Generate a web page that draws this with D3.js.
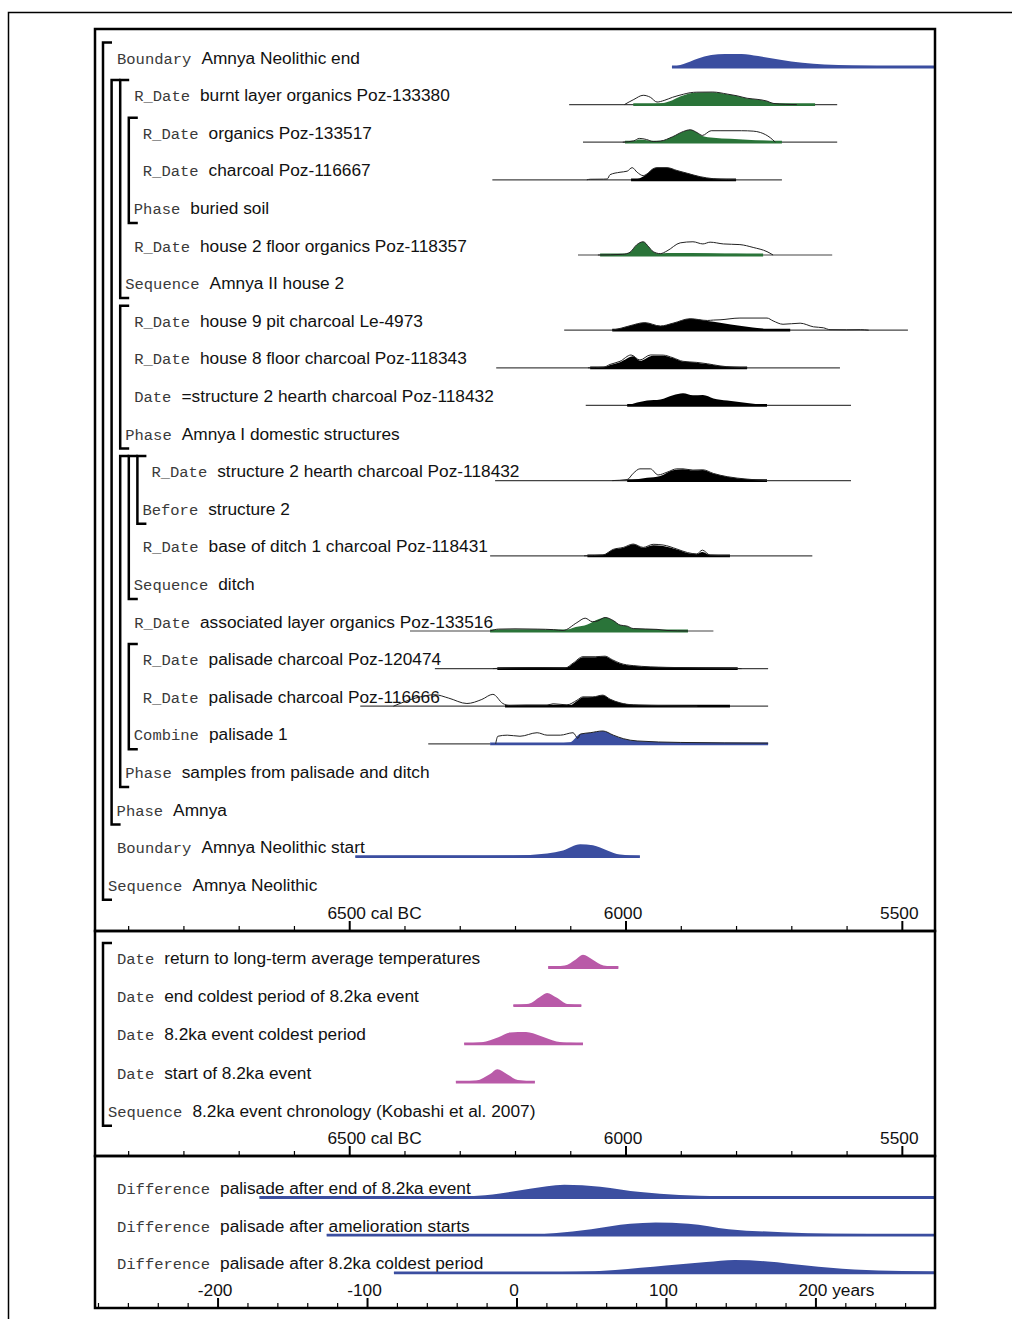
<!DOCTYPE html>
<html>
<head>
<meta charset="utf-8">
<script src="https://cdn.jsdelivr.net/npm/d3@7"></script>
<style>
	body{margin:0;background:#fff;}
	svg{display:block;}
	.key{font-family:"Liberation Mono",monospace;font-size:15.5px;fill:#3a3a3a;}
	.name{font-family:"Liberation Sans",Arial,sans-serif;font-size:17.3px;fill:#111;}
	.tick text{font-family:"Liberation Sans",Arial,sans-serif;font-size:17.3px;fill:#111;}
</style>
</head>
<body>
<script>

//Row labels of the Amnya model (top panel), top to bottom
let amnyaKeys = ["Boundary","R_Date","R_Date","R_Date","Phase","R_Date","Sequence","R_Date","R_Date","Date","Phase",
	"R_Date","Before","R_Date","Sequence","R_Date","R_Date","R_Date","Combine","Phase","Phase","Boundary","Sequence"];
let amnyaNames = ["Amnya Neolithic end","burnt layer organics Poz-133380","organics Poz-133517","charcoal Poz-116667",
	"buried soil","house 2 floor organics Poz-118357","Amnya II house 2","house 9 pit charcoal Le-4973",
	"house 8 floor charcoal Poz-118343","=structure 2 hearth charcoal Poz-118432","Amnya I domestic structures",
	"structure 2 hearth charcoal Poz-118432","structure 2","base of ditch 1 charcoal Poz-118431","ditch",
	"associated layer organics Poz-133516","palisade charcoal Poz-120474","palisade charcoal Poz-116666","palisade 1",
	"samples from palisade and ditch","Amnya","Amnya Neolithic start","Amnya Neolithic"];
//Groupings: [first row, label row, nesting depth]
let amnyaGroups = [[0,22,0],[1,20,1],[1,6,2],[2,4,3],[7,10,2],[11,19,2],[11,14,3],[11,12,4],[16,18,3]];

//Kobashi 8.2ka chronology (middle panel)
let climateKeys = ["Date","Date","Date","Date","Sequence"];
let climateNames = ["return to long-term average temperatures","end coldest period of 8.2ka event",
	"8.2ka event coldest period","start of 8.2ka event","8.2ka event chronology (Kobashi et al. 2007)"];
let climateGroups = [[0,4,0]];

//Differences (bottom panel)
let diffKeys = ["Difference","Difference","Difference"];
let diffNames = ["palisade after end of 8.2ka event","palisade after amelioration starts","palisade after 8.2ka coldest period"];

//Distributions: [year cal BC (or years), relative probability]
let endBoundary = [[5916,0],[5895,23],[5870,62],[5845,88],[5820,96],[5790,96],[5760,81],[5720,54],[5680,31],[5640,19],[5590,12],[5500,8],[5440,8]];
let post133380 = [[5986,0],[5960,2],[5938,8],[5920,25],[5900,62],[5889,77],[5871,90],[5842,92],[5816,77],[5798,64],[5780,46],[5762,38],[5744,25],[5733,8],[5700,4],[5657,2]];
let like133380 = [[6002,0],[5985,38],[5968,69],[5955,54],[5943,19],[5930,31],[5915,54],[5895,77],[5883,88],[5871,92],[5842,93],[5816,78],[5798,65],[5780,47],[5762,39],[5744,26],[5733,9],[5710,2],[5690,0]];
let post133517 = [[6001,0],[5985,8],[5975,20],[5962,15],[5950,5],[5937,8],[5915,40],[5895,80],[5883,92],[5870,70],[5861,46],[5841,33],[5810,25],[5780,19],[5750,12],[5733,8],[5717,0]];
let like133517 = [[6005,0],[5985,10],[5975,28],[5962,20],[5950,5],[5937,8],[5915,40],[5895,80],[5883,92],[5870,70],[5861,50],[5845,85],[5829,85],[5790,85],[5769,82],[5756,72],[5738,33],[5729,0]];
let post116667 = [[5990,0],[5975,10],[5961,44],[5950,82],[5943,90],[5925,90],[5907,69],[5888,48],[5865,23],[5841,8],[5816,2],[5800,0]];
let like116667 = [[6070,0],[6064,4],[6040,5],[6033,6],[6028,38],[6010,56],[5997,64],[5988,90],[5979,56],[5968,31],[5961,44],[5950,82],[5943,90],[5925,90],[5907,69],[5888,48],[5865,23],[5841,8],[5816,2],[5800,0]];
let post118357 = [[6046,3],[6005,5],[5992,20],[5980,75],[5968,98],[5958,60],[5950,25],[5937,8],[5925,15],[5880,15],[5820,10],[5780,8],[5751,0]];
let like118357 = [[6050,0],[6005,5],[5992,20],[5980,75],[5968,98],[5958,60],[5950,25],[5937,10],[5925,30],[5901,90],[5878,98],[5860,82],[5847,95],[5823,82],[5793,77],[5769,56],[5744,25],[5733,0]];
let postLe4973 = [[6024,0],[6008,15],[5992,33],[5965,56],[5937,31],[5914,52],[5883,85],[5852,69],[5829,56],[5790,31],[5744,8],[5702,0]];
let likeLe4973 = [[6024,0],[6008,15],[5992,33],[5965,56],[5937,31],[5914,52],[5883,85],[5852,72],[5841,75],[5829,77],[5793,90],[5744,90],[5733,69],[5715,44],[5684,52],[5660,25],[5642,18],[5630,4],[5600,3],[5575,4],[5560,0]];
let post118343 = [[6064,0],[6040,3],[6028,21],[6010,41],[5986,85],[5974,52],[5950,90],[5932,90],[5914,72],[5896,46],[5871,38],[5852,28],[5829,13],[5780,0]];
let like118343 = [[6068,0],[6040,4],[6028,25],[6010,48],[5990,95],[5974,58],[5955,95],[5932,94],[5914,74],[5896,48],[5871,40],[5852,30],[5829,14],[5780,0]];
let dateStructure2 = [[5997,0],[5961,36],[5937,44],[5914,75],[5896,90],[5878,75],[5860,77],[5841,52],[5816,36],[5780,18],[5744,0]];
let post118432 = [[5997,0],[5961,21],[5937,35],[5914,77],[5896,85],[5878,77],[5860,79],[5841,52],[5816,28],[5780,10],[5744,0]];
let like118432 = [[6024,0],[5997,8],[5986,54],[5974,87],[5955,87],[5941,42],[5925,62],[5907,87],[5896,87],[5878,78],[5860,80],[5841,53],[5816,29],[5780,11],[5744,0]];
let post118431 = [[6069,0],[6041,5],[6022,46],[6004,59],[5986,85],[5968,59],[5950,79],[5932,72],[5907,46],[5888,21],[5871,12],[5861,28],[5847,4],[5811,0]];
let like118431 = [[6075,0],[6041,6],[6022,48],[6004,62],[5986,87],[5968,62],[5950,85],[5932,80],[5907,50],[5888,24],[5871,14],[5861,42],[5847,5],[5811,0]];
let post133516 = [[6245,0],[6230,10],[6200,12],[6160,12],[6130,8],[6113,4],[6090,30],[6069,48],[6059,69],[6037,100],[6022,77],[6010,44],[5997,36],[5986,18],[5943,12],[5925,4],[5887,0]];
let like133516 = [[6245,0],[6230,14],[6200,16],[6160,14],[6130,10],[6113,4],[6088,62],[6073,95],[6060,69],[6050,75],[6037,100],[6022,77],[6010,44],[5997,36],[5986,18],[5943,12],[5925,4],[5887,0]];
let post120474 = [[6232,0],[6200,5],[6150,6],[6109,4],[6095,38],[6077,85],[6055,85],[6037,90],[6024,64],[6010,38],[5986,21],[5925,8],[5811,2],[5797,0]];
let like120474 = [[6240,0],[6200,6],[6150,7],[6109,5],[6095,40],[6077,88],[6055,88],[6037,92],[6024,66],[6010,40],[5986,22],[5925,9],[5811,2],[5790,0]];
let post116666 = [[6100,0],[6088,38],[6077,67],[6059,69],[6041,82],[6028,52],[6010,25],[5986,10],[5925,2],[5811,0]];
let like116666 = [[6420,0],[6380,60],[6345,85],[6320,60],[6287,20],[6260,50],[6240,88],[6222,20],[6210,5],[6180,8],[6142,8],[6131,18],[6106,10],[6088,44],[6077,69],[6059,69],[6041,82],[6028,52],[6010,25],[5986,10],[5925,4],[5870,0]];
let postPalisade = [[6124,4],[6100,12],[6082,72],[6064,82],[6041,95],[6022,64],[6004,38],[5979,21],[5901,10],[5742,5]];
let likePalisade = [[6235,0],[6231,56],[6214,64],[6191,56],[6160,82],[6142,64],[6118,64],[6095,82],[6086,40],[6082,72],[6064,82],[6041,95],[6022,64],[6004,38],[5979,21],[5901,10],[5742,5]];
let startBoundary = [[6489,5],[6300,6],[6203,8],[6142,23],[6113,46],[6082,92],[6059,85],[6033,46],[6010,15],[5974,4]];

let climateReturn = [[6140,5],[6110,15],[6090,60],[6077,95],[6060,60],[6040,15],[6013,5]];
let climateEndCold = [[6203,5],[6175,15],[6155,65],[6142,95],[6125,60],[6105,12],[6080,5]];
let climateCold = [[6292,5],[6260,12],[6230,50],[6209,85],[6180,88],[6155,60],[6125,18],[6100,8],[6077,5]];
let climateStart = [[6307,5],[6270,12],[6245,60],[6232,95],[6215,60],[6195,15],[6164,5]];

let diffEnd = [[-172,5],[-60,6],[-31,10],[-11,30],[9,65],[32,95],[56,80],[83,40],[109,18],[136,10],[203,7],[280,5]];
let diffAmelioration = [[-127,5],[0,5],[12,6],[25,15],[50,45],[76,85],[93,95],[115,85],[142,45],[178,22],[212,11],[261,7],[280,5]];
let diffColdest = [[-82,5],[20,6],[40,8],[66,22],[100,55],[127,80],[146,95],[168,85],[194,55],[226,25],[258,14],[280,10]];

//Axis ticks
let calMajor = [6500,6000,5500];
let calMinor = [6900,6800,6700,6600,6400,6300,6200,6100,5900,5800,5700,5600];
let diffMajor = [-200,-100,0,100,200];
let diffMinor = [-280,-260,-240,-220,-180,-160,-140,-120,-80,-60,-40,-20,20,40,60,80,120,140,160,180,220,240,260,280];

//Which distribution goes on which row
let amnyaDists = [
	{row:0, kind:"boundary", post:endBoundary},
	{row:1, kind:"organic", post:post133380, like:like133380, likeRange:[6102,5617], postRange:[5986,5657]},
	{row:2, kind:"organic", post:post133517, like:like133517, likeRange:[6077,5617], postRange:[6001,5717]},
	{row:3, kind:"charcoal", post:post116667, like:like116667, likeRange:[6241,5717]},
	{row:5, kind:"organic", post:post118357, like:like118357, likeRange:[6086,5626], postRange:[6046,5751]},
	{row:7, kind:"charcoal", post:postLe4973, like:likeLe4973, likeRange:[6111,5489]},
	{row:8, kind:"charcoal", post:post118343, like:like118343, likeRange:[6234,5612]},
	{row:9, kind:"charcoal", post:dateStructure2, likeRange:[6072,5592]},
	{row:11, kind:"charcoal", post:post118432, like:like118432, likeRange:[6236,5592]},
	{row:13, kind:"charcoal", post:post118431, like:like118431, likeRange:[6245,5662]},
	{row:15, kind:"organic", post:post133516, like:like133516, likeRange:[6390,5841], postRange:[6245,5887]},
	{row:16, kind:"charcoal", post:post120474, like:like120474, likeRange:[6345,5742]},
	{row:17, kind:"charcoal", post:post116666, like:like116666, likeRange:[6480,5742], postRange:[6218,5811]},
	{row:18, kind:"boundary", post:postPalisade, like:likePalisade, likeRange:[6357,6245], postRange:[6245,5742]},
	{row:21, kind:"boundary", post:startBoundary}
];
let climateDists = [
	{row:0, kind:"climate", post:climateReturn},
	{row:1, kind:"climate", post:climateEndCold},
	{row:2, kind:"climate", post:climateCold},
	{row:3, kind:"climate", post:climateStart}
];
let diffDists = [
	{row:0, kind:"diff", post:diffEnd},
	{row:1, kind:"diff", post:diffAmelioration},
	{row:2, kind:"diff", post:diffColdest}
];

window.onload = drawFigure();

function drawFigure(){

	let width = 1012;
	let height = 1319;
	let left = 95, right = 935;

	let colours = {boundary:"#3b4ea0", organic:"#2a7439", charcoal:"#000", climate:"#b95aa8", diff:"#3b4ea0"};

	let svg = d3.select("body")
		.append("svg")
		.attr("width", width)
		.attr("height", height);

	//Outer frame, runs off the page at right and bottom
	svg.append("rect")
		.attr("x", 8.5).attr("y", 12.5)
		.attr("width", 1100).attr("height", 1400)
		.attr("fill", "none").attr("stroke", "#000").attr("stroke-width", 1.5);

	let xCal = d3.scaleLinear().domain([6960, 5440]).range([left, right]);
	let xDiff = d3.scaleLinear().domain([-282, 280]).range([left, right]);
	let yProb = d3.scaleLinear().domain([0, 100]).range([0, 13.5]);

	//bracket x for a nesting depth
	let bx = function(d){ return 103 + 8.6 * d; };

	let panels = [
		{top:29, bottom:931, base:63.5, step:37.6, x:xCal, keys:amnyaKeys, names:amnyaNames, groups:amnyaGroups, dists:amnyaDists,
			major:calMajor, minor:calMinor, minorLen:5, unitTick:6500, unit:" cal BC"},
		{top:931, bottom:1156, base:964, step:38.2, x:xCal, keys:climateKeys, names:climateNames, groups:climateGroups, dists:climateDists,
			major:calMajor, minor:calMinor, minorLen:5, unitTick:6500, unit:" cal BC"},
		{top:1156, bottom:1308, base:1194, step:37.7, x:xDiff, keys:diffKeys, names:diffNames, groups:[], dists:diffDists,
			major:diffMajor, minor:diffMinor, minorLen:5, unitTick:200, unit:" years"}
	];

	panels.forEach(function(p){
		let g = svg.append("g");
		let rowY = function(i){ return p.base + p.step * i; };

		//Brackets for groupings
		g.selectAll(".bracket")
			.data(p.groups)
			.enter()
			.append("path")
			.attr("class", "bracket")
			.attr("d", function(d){
				let bxx = bx(d[2]);
				return "M" + (bxx + 9) + "," + (rowY(d[0]) - 21) + "H" + bxx + "V" + (rowY(d[1]) + 9) + "H" + (bxx + 9);
			})
			.attr("fill", "none")
			.attr("stroke", "#000")
			.attr("stroke-width", 2.5);

		//Row labels
		p.keys.forEach(function(k, i){
			let lx = bx(0) + 14;
			let labelGroup = p.groups.filter(function(gr){ return gr[1] === i; });
			let inside = p.groups.filter(function(gr){ return gr[0] <= i && i < gr[1]; });
			if (labelGroup.length) lx = bx(labelGroup[0][2]) + 5;
			else if (inside.length) lx = bx(d3.max(inside, function(gr){ return gr[2]; })) + 14;

			let kt = g.append("text")
				.attr("class", "key")
				.attr("x", lx)
				.attr("y", rowY(i))
				.text(k);
			let kw = kt.node().getComputedTextLength();
			g.append("text")
				.attr("class", "name")
				.attr("x", lx + kw + 10)
				.attr("y", rowY(i))
				.text(p.names[i]);
		});

		//Distributions
		p.dists.forEach(function(d){
			let y0 = rowY(d.row) + 3.5;
			let col = colours[d.kind];
			let area = d3.area()
				.x(function(v){ return p.x(v[0]); })
				.y0(y0)
				.y1(function(v){ return y0 - yProb(v[1]); })
				.curve(d3.curveMonotoneX);
			let line = d3.line()
				.x(function(v){ return p.x(v[0]); })
				.y(function(v){ return y0 - yProb(v[1]); })
				.curve(d3.curveMonotoneX);

			if (d.likeRange){
				g.append("line")
					.attr("x1", p.x(d.likeRange[0])).attr("x2", p.x(d.likeRange[1]))
					.attr("y1", y0).attr("y2", y0)
					.attr("stroke", "#444").attr("stroke-width", 1.2);
			}
			g.append("path")
				.datum(d.post)
				.attr("d", area)
				.attr("fill", col);
			let pr = d.postRange || [d.post[0][0], d.post[d.post.length - 1][0]];
			g.append("line")
				.attr("x1", p.x(pr[0])).attr("x2", p.x(pr[1]))
				.attr("y1", y0).attr("y2", y0)
				.attr("stroke", col).attr("stroke-width", 2.8);
			if (d.like){
				g.append("path")
					.datum(d.like)
					.attr("d", line)
					.attr("fill", "none")
					.attr("stroke", "#222")
					.attr("stroke-width", 1);
			}
		});

		//Axis along the bottom edge, ticks pointing up
		let minorAxis = g.append("g")
			.attr("transform", "translate(0," + p.bottom + ")")
			.call(d3.axisTop(p.x).tickValues(p.minor).tickSize(p.minorLen).tickFormat(""));
		minorAxis.select(".domain").remove();
		minorAxis.selectAll("line").attr("stroke-width", 1.2);

		let majorAxis = g.append("g")
			.attr("transform", "translate(0," + p.bottom + ")")
			.call(d3.axisTop(p.x).tickValues(p.major).tickSize(10).tickPadding(2).tickFormat(function(v){ return String(v); }));
		majorAxis.select(".domain").remove();
		majorAxis.attr("color", "#000");
		majorAxis.selectAll("line").attr("stroke-width", 2);
		majorAxis.selectAll(".tick text").attr("dx", -3);
		majorAxis.selectAll(".tick")
			.filter(function(v){ return v === p.unitTick; })
			.select("text")
			.each(function(){
				let t = d3.select(this);
				let w = this.getComputedTextLength();
				t.attr("text-anchor", "start").attr("x", -w / 2);
				t.append("tspan").text(p.unit);
			});

		//Panel frame
		g.append("rect")
			.attr("x", left).attr("y", p.top)
			.attr("width", right - left).attr("height", p.bottom - p.top)
			.attr("fill", "none")
			.attr("stroke", "#000")
			.attr("stroke-width", 2.5);
	});
};
</script>
</body>
</html>
